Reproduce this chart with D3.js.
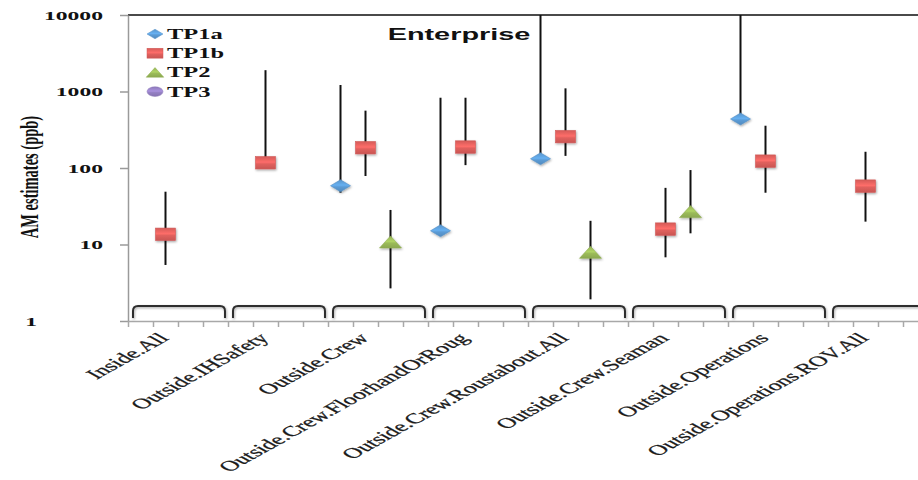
<!DOCTYPE html>
<html>
<head>
<meta charset="utf-8">
<script src="https://cdn.jsdelivr.net/npm/d3@7"></script>
<style>
  body { margin: 0; background: #fff; }
  svg { display: block; }
</style>
</head>
<body>
<div id="chart"></div>
<script>
// categories and series
var categories = ["Inside.All", "Outside.IHSafety", "Outside.Crew", "Outside.Crew.FloorhandOrRoug",
    "Outside.Crew.Roustabout.All", "Outside.Crew.Seaman", "Outside.Operations", "Outside.Operations.ROV.All"];
var series = ["TP1a", "TP1b", "TP2", "TP3"];

// AM estimates (ppb) with lower / upper bounds, null = no estimate
var tp1a     = [null, null, 58.6, 15.1, 132, null, 437, null];
var tp1aLow  = [null, null, 47.5, 15.1, 132, null, 437, null];
var tp1aHigh = [null, null, 1217, 829, 10000, null, 10000, null];

var tp1b     = [13.6, 117, 184, 188, 257, 15.9, 123, 58];
var tp1bLow  = [5.4, 117, 78.6, 109, 144, 6.8, 47.5, 19.9];
var tp1bHigh = [49, 1900, 562, 829, 1100, 55, 357, 163];

var tp2      = [null, null, 10.8, null, 7.9, 26.9, null, null];
var tp2Low   = [null, null, 2.67, null, 1.92, 14, null, null];
var tp2High  = [null, null, 28.3, null, 20.4, 94, null, null];

var tp3      = [null, null, null, null, null, null, null, null];
var tp3Low   = [null, null, null, null, null, null, null, null];
var tp3High  = [null, null, null, null, null, null, null, null];

var yTicks = [1, 10, 100, 1000, 10000];
var title = "Enterprise";
var yTitle = "AM estimates (ppb)";

var chart = (function () {
    var W = 918, H = 480,
        left = 128, top = 15, bottom = 321, slotW = 25,
        right = left + categories.length * series.length * slotW,
        stretch = 1.75,
        serif = "'Liberation Serif', 'Times New Roman', serif",
        sans = "'Liberation Sans', Arial, sans-serif";

    var colors = { TP1a: "#5b9bd5", TP1b: "#e0605d", TP2: "#9bbb59", TP3: "#9580c4" };

    var shapes = {
        TP1a: function (g, s) { g.append("path").attr("d", "M" + (-10 * s) + ",0L0," + (-6 * s) + "L" + (10 * s) + ",0L0," + (6 * s) + "Z"); },
        TP1b: function (g, s) { g.append("rect").attr("x", -10 * s).attr("y", -6.2 * s).attr("width", 20 * s).attr("height", 12.4 * s); },
        TP2:  function (g, s) { g.append("path").attr("d", "M" + (-11 * s) + "," + (6 * s) + "L0," + (-6 * s) + "L" + (11 * s) + "," + (6 * s) + "Z"); },
        TP3:  function (g, s) { g.append("ellipse").attr("rx", 10 * s).attr("ry", 6 * s); }
    };

    var rows = function () {
        var vals = { TP1a: [tp1a, tp1aLow, tp1aHigh], TP1b: [tp1b, tp1bLow, tp1bHigh], TP2: [tp2, tp2Low, tp2High], TP3: [tp3, tp3Low, tp3High] };
        var out = [];
        series.forEach(function (s) {
            categories.forEach(function (c, i) {
                if (vals[s][0][i] != null) out.push({ cat: c, series: s, v: vals[s][0][i], lo: vals[s][1][i], hi: vals[s][2][i] });
            });
        });
        return out;
    };

    return {
        draw: function (sel) {
            var svg = d3.select(sel).append("svg").attr("width", W).attr("height", H);
            var defs = svg.append("defs");

            series.forEach(function (s) {
                var c = d3.color(colors[s]);
                var gr = defs.append("linearGradient").attr("id", "g-" + s).attr("x1", 0).attr("x2", 0).attr("y1", 0).attr("y2", 1);
                gr.append("stop").attr("offset", "0%").attr("stop-color", c.darker(0.15));
                gr.append("stop").attr("offset", "45%").attr("stop-color", c.brighter(0.35));
                gr.append("stop").attr("offset", "60%").attr("stop-color", c);
                gr.append("stop").attr("offset", "100%").attr("stop-color", c.darker(0.3));
            });
            defs.append("clipPath").attr("id", "plot-clip").append("rect")
                .attr("x", left).attr("y", top).attr("width", right - left).attr("height", bottom - top);
            var sh = defs.append("filter").attr("id", "shadow").attr("x", "-30%").attr("y", "-30%").attr("width", "160%").attr("height", "160%");
            sh.append("feDropShadow").attr("dx", 0.8).attr("dy", 1.2).attr("stdDeviation", 0.9).attr("flood-color", "#000").attr("flood-opacity", 0.35);

            var x = d3.scaleBand().domain(categories).range([left, right]);
            var xs = d3.scaleBand().domain(series).range([0, x.bandwidth()]);
            var y = d3.scaleLog().domain([1, 10000]).range([bottom, top]);
            var slots = d3.scaleLinear().domain([0, categories.length * series.length]).range([left, right]);

            // top border
            svg.append("line").attr("x1", left).attr("x2", right).attr("y1", top).attr("y2", top)
                .attr("stroke", "#4a4a4a").attr("stroke-width", 2);

            // y axis
            var ya = svg.append("g").attr("transform", "translate(" + left + ",0)")
                .call(d3.axisLeft(y).tickValues(yTicks).tickFormat("").tickSize(8).tickSizeOuter(0));
            ya.select(".domain").attr("stroke", "#9a9a9a").attr("stroke-width", 1.5);
            ya.selectAll(".tick line").attr("stroke", "#9a9a9a").attr("stroke-width", 1.5);

            svg.append("g").selectAll("text").data(yTicks).enter().append("text")
                .attr("transform", function (d) { return "translate(" + (d === 1 ? 37 : 103) + "," + y(d) + ") scale(" + stretch + ",1)"; })
                .attr("dy", "0.35em").attr("text-anchor", "end")
                .style("font-family", serif).style("font-weight", "bold").style("font-size", "13.5px").attr("fill", "#111")
                .text(function (d) { return d; });

            // x axis
            var xa = svg.append("g").attr("transform", "translate(0," + bottom + ")")
                .call(d3.axisBottom(slots).tickValues(d3.range(categories.length * series.length + 1)).tickFormat("").tickSize(6).tickSizeOuter(0));
            xa.select(".domain").attr("stroke", "#a8a8a8").attr("stroke-width", 1.5);
            xa.selectAll(".tick line").attr("stroke", "#a8a8a8").attr("stroke-width", 1.5);

            // category brackets
            svg.append("g").attr("filter", "url(#shadow)").selectAll("path").data(categories).enter().append("path")
                .attr("d", function (c) {
                    var x0 = x(c) + 5, x1 = x(c) + x.bandwidth() - 3, yt = bottom - 15, yb = bottom - 3;
                    return "M" + x0 + "," + yb + "L" + x0 + "," + (yt + 5) + "Q" + x0 + "," + yt + " " + (x0 + 5) + "," + yt +
                        "L" + (x1 - 5) + "," + yt + "Q" + x1 + "," + yt + " " + x1 + "," + (yt + 5) + "L" + x1 + "," + yb;
                })
                .attr("fill", "none").attr("stroke", "#2f2f2f").attr("stroke-width", 2);

            // x labels
            svg.append("g").selectAll("text").data(categories).enter().append("text")
                .attr("transform", function (c) { return "translate(" + (x(c) + x.bandwidth() / 2 - 8) + ",339) scale(1.8,1) rotate(-45)"; })
                .attr("text-anchor", "end")
                .style("font-family", serif).style("font-size", "14.5px").attr("fill", "#1a1a1a")
                .attr("stroke", "#1a1a1a").attr("stroke-width", 0.25)
                .text(function (c) { return c; });

            var data = rows();
            var cx = function (d) { return x(d.cat) + xs(d.series) + xs.bandwidth() / 2; };

            // error bars
            svg.append("g").attr("clip-path", "url(#plot-clip)").selectAll("line").data(data).enter().append("line")
                .attr("x1", cx).attr("x2", cx)
                .attr("y1", function (d) { return y(d.hi); }).attr("y2", function (d) { return y(d.lo); })
                .attr("stroke", "#111").attr("stroke-width", 2);

            // markers
            svg.append("g").attr("filter", "url(#shadow)").selectAll("g").data(data).enter().append("g")
                .attr("transform", function (d) { return "translate(" + cx(d) + "," + y(d.v) + ")"; })
                .each(function (d) {
                    var g = d3.select(this);
                    shapes[d.series](g, 1);
                    g.selectAll("*").attr("fill", "url(#g-" + d.series + ")")
                        .attr("stroke", d3.color(colors[d.series]).darker(0.2)).attr("stroke-width", 0.6);
                });

            // legend
            var lg = svg.append("g").selectAll("g").data(series).enter().append("g")
                .attr("transform", function (s, i) { return "translate(155," + (34 + i * 19.2) + ")"; });
            lg.each(function (s) {
                var g = d3.select(this).append("g");
                shapes[s](g, 0.8);
                g.selectAll("*").attr("fill", "url(#g-" + s + ")").attr("stroke", d3.color(colors[s]).darker(0.2)).attr("stroke-width", 0.5);
            });
            lg.append("text").attr("transform", "translate(12,0) scale(" + stretch + ",1)").attr("dy", "0.35em")
                .style("font-family", serif).style("font-weight", "bold").style("font-size", "14px").attr("fill", "#111")
                .text(function (s) { return s; });

            // title
            svg.append("text").attr("transform", "translate(459,40) scale(" + stretch + ",1)").attr("text-anchor", "middle")
                .style("font-family", sans).style("font-weight", "bold").style("font-size", "16.5px").attr("fill", "#111")
                .text(title);

            // y title
            svg.append("text").attr("transform", "translate(29,177) scale(" + stretch + ",1) rotate(-90)")
                .attr("text-anchor", "middle").attr("dy", "0.35em")
                .style("font-family", serif).style("font-weight", "bold").style("font-size", "14.5px").attr("fill", "#111")
                .text(yTitle);
        }
    };
})();

chart.draw("#chart");
</script>
</body>
</html>
